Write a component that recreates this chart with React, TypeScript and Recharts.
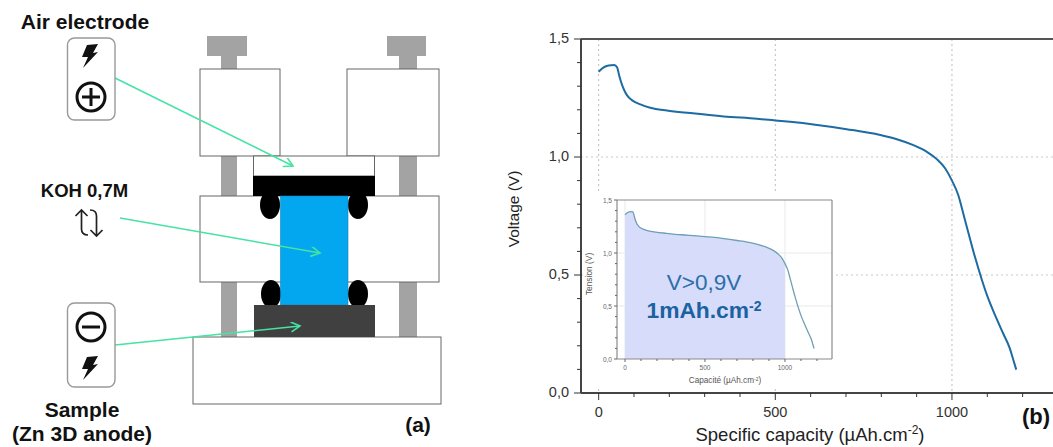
import { ComposedChart, Line, Area, XAxis, YAxis, CartesianGrid, ReferenceLine } from 'recharts'

const capacity = [0, 14, 28, 44, 52, 59, 68, 80, 94, 118, 146, 193, 259, 354, 448, 500, 542, 608, 702, 797, 844, 891, 929, 957, 981, 1000, 1018, 1032, 1047, 1065, 1085, 1101, 1122, 1145, 1164, 1174, 1182]
const voltage = [1.361, 1.38, 1.388, 1.39, 1.38, 1.34, 1.298, 1.262, 1.241, 1.223, 1.209, 1.197, 1.186, 1.172, 1.162, 1.155, 1.149, 1.138, 1.118, 1.093, 1.075, 1.05, 1.022, 0.991, 0.951, 0.9, 0.838, 0.761, 0.676, 0.577, 0.478, 0.407, 0.33, 0.252, 0.188, 0.139, 0.099]
const xTicks = [0, 100, 200, 300, 400, 500, 600, 700, 800, 900, 1000, 1100, 1200]
const yTicks = [0, 0.1, 0.2, 0.3, 0.4, 0.5, 0.6, 0.7, 0.8, 0.9, 1, 1.1, 1.2, 1.3, 1.4, 1.5]
const xLabelled = [0, 500, 1000]
const yLabelled = [0, 0.5, 1, 1.5]

const rows = capacity.map((c, i) => ({
  capacity: c,
  voltage: voltage[i],
  filled: c <= 1000 ? voltage[i] : null,
}))

const FONT = '"Liberation Sans", Arial, sans-serif'
const GREEN = '#45e3a4'

function XTick({ x, y, payload, major, minor, dy, size, color }: any) {
  const labelled = xLabelled.includes(payload.value)
  return (
    <g>
      <line x1={x} x2={x} y1={y} y2={y + (labelled ? major : minor)} stroke={color} strokeWidth={1} />
      {labelled && (
        <text x={x} y={y + dy} textAnchor="middle" fontSize={size} fontFamily={FONT} fill={color}>
          {payload.value}
        </text>
      )}
    </g>
  )
}

function YTick({ x, y, payload, major, minor, dx, dy, size, color }: any) {
  const labelled = yLabelled.includes(payload.value)
  return (
    <g>
      <line x1={x - (labelled ? major : minor)} x2={x} y1={y} y2={y} stroke={color} strokeWidth={1} />
      {labelled && (
        <text x={x - dx} y={y + dy} textAnchor="end" fontSize={size} fontFamily={FONT} fill={color}>
          {payload.value.toFixed(1).replace('.', ',')}
        </text>
      )}
    </g>
  )
}

function Bolt({ x, y }: { x: number; y: number }) {
  return (
    <path
      transform={`translate(${x} ${y})`}
      d="M-3 -11 L8 -12 L3 -3 L8 -4 L-7 12 L-2 1 L-8 1 Z"
      fill="#111"
    />
  )
}

function Schematic() {
  const box = { fill: '#fff', stroke: '#666', strokeWidth: 1 }
  return (
    <svg width={1053} height={447} style={{ position: 'absolute', left: 0, top: 0 }}>
      <defs>
        <marker id="head" markerWidth="12" markerHeight="12" refX="10" refY="5" orient="auto" markerUnits="userSpaceOnUse">
          <path d="M1 0 L10 5 L1 10" fill="none" stroke={GREEN} strokeWidth={1.6} />
        </marker>
      </defs>
      <g fill="#a3a3a3">
        <rect x={207} y={36} width={40} height={20} />
        <rect x={221} y={56} width={16} height={13} />
        <rect x={387} y={36} width={39} height={20} />
        <rect x={399} y={56} width={18} height={13} />
        <rect x={221} y={156} width={16} height={40} />
        <rect x={221} y={282} width={16} height={55} />
        <rect x={399} y={156} width={18} height={40} />
        <rect x={399} y={282} width={18} height={55} />
      </g>
      <rect x={200} y={69} width={80} height={87} {...box} />
      <rect x={347} y={69} width={92} height={87} {...box} />
      <rect x={200} y={196} width={239} height={86} {...box} />
      <rect x={193} y={337} width={248} height={67} {...box} />
      <rect x={253.5} y={156} width={121} height={20} {...box} />
      <rect x={253} y={176} width={122} height={20} fill="#000" />
      <ellipse cx={270} cy={205} rx={10} ry={14} fill="#000" />
      <ellipse cx={358} cy={205} rx={10} ry={14} fill="#000" />
      <ellipse cx={271} cy={294} rx={10} ry={14} fill="#000" />
      <ellipse cx={358} cy={294} rx={10} ry={14} fill="#000" />
      <rect x={280.5} y={196} width={67.5} height={109} fill="#03a7ef" stroke="#1a7fb5" strokeWidth={0.6} />
      <rect x={254} y={305} width={121} height={32} fill="#404040" />
      <line x1={115} y1={78} x2={293} y2={166} stroke={GREEN} strokeWidth={1.6} markerEnd="url(#head)" />
      <line x1={120} y1={218} x2={320} y2={253} stroke={GREEN} strokeWidth={1.6} markerEnd="url(#head)" />
      <line x1={115} y1={345} x2={300} y2={326} stroke={GREEN} strokeWidth={1.6} markerEnd="url(#head)" />
      <rect x={67.5} y={38} width={47.5} height={82} rx={7} fill="none" stroke="#999" strokeWidth={1.4} />
      <rect x={67.5} y={303} width={47.5} height={84} rx={7} fill="none" stroke="#999" strokeWidth={1.4} />
      <Bolt x={90} y={56} />
      <Bolt x={90} y={368} />
      <circle cx={91} cy={97} r={14} fill="none" stroke="#111" strokeWidth={3} />
      <path d="M82 97 H100 M91 88 V106" stroke="#111" strokeWidth={3} />
      <circle cx={91} cy={327} r={14} fill="none" stroke="#111" strokeWidth={3} />
      <path d="M82 327 H100" stroke="#111" strokeWidth={3} />
      <path d="M81.5 210 V229 Q81.5 235 88 235 M75.5 216 L81.5 210 L87.5 216" fill="none" stroke="#222" strokeWidth={1.7} />
      <path d="M96.5 236 V216 Q96.5 210 90 210 M90.5 230 L96.5 236 L102.5 230" fill="none" stroke="#222" strokeWidth={1.7} />
      <g fontFamily={FONT} fontWeight="bold" fill="#111" textAnchor="middle">
        <text x={85} y={29} fontSize={21}>Air electrode</text>
        <text x={84.5} y={197} fontSize={18.5}>KOH 0,7M</text>
        <text x={82} y={417} fontSize={21}>Sample</text>
        <text x={82} y={441} fontSize={21}>(Zn 3D anode)</text>
        <text x={418} y={432} fontSize={21}>(a)</text>
      </g>
    </svg>
  )
}

function MainChart() {
  return (
    <div style={{ position: 'absolute', left: 0, top: 0 }}>
      <ComposedChart width={1053} height={447} data={rows} margin={{ left: 521, right: 0, top: 39, bottom: 24 }}>
        <CartesianGrid
          horizontal={false}
          vertical
          verticalValues={[0, 500, 1000]}
          stroke="#bdbdbd"
          strokeDasharray="2 3"
        />
        <CartesianGrid
          vertical={false}
          horizontal
          horizontalValues={[0.5, 1]}
          stroke="#c9c9c9"
          strokeDasharray="2 3"
        />
        <XAxis
          dataKey="capacity"
          type="number"
          domain={[-50, 1286]}
          ticks={xTicks}
          interval={0}
          height={30}
          tickLine={false}
          tickSize={0}
          tickMargin={0}
          axisLine={{ stroke: '#444', strokeWidth: 2 }}
          tick={(p: any) => <XTick {...p} major={7} minor={4} dy={24} size={14.5} color="#333" />}
        />
        <YAxis
          type="number"
          domain={[0, 1.5]}
          ticks={yTicks}
          interval={0}
          width={60}
          tickLine={false}
          tickSize={0}
          tickMargin={0}
          axisLine={{ stroke: '#444', strokeWidth: 2 }}
          tick={(p: any) => <YTick {...p} major={7} minor={4} dx={12} dy={4} size={14.5} color="#333" />}
        />
        <ReferenceLine y={1.5} stroke="#555" strokeWidth={2} />
        <Line type="monotone" dataKey="voltage" stroke="#1c6ba3" strokeWidth={2} dot={false} isAnimationActive={false} />
      </ComposedChart>
    </div>
  )
}

function InsetChart() {
  return (
    <div style={{ position: 'absolute', left: 590, top: 193, width: 245, height: 194, background: '#fff' }}>
      <ComposedChart width={245} height={194} data={rows} margin={{ left: 7, right: 3, top: 7, bottom: 8 }}>
        <CartesianGrid verticalValues={[0, 500, 1000]} horizontalValues={[0.5, 1]} stroke="#e9e9e9" />
        <XAxis
          dataKey="capacity"
          type="number"
          domain={[-50, 1294]}
          ticks={xTicks}
          interval={0}
          height={20}
          tickLine={false}
          tickSize={0}
          tickMargin={0}
          axisLine={{ stroke: '#8a8a8a', strokeWidth: 1.2 }}
          tick={(p: any) => <XTick {...p} major={3} minor={2} dy={11} size={6.5} color="#666" />}
        />
        <YAxis
          type="number"
          domain={[0, 1.5]}
          ticks={yTicks}
          interval={0}
          width={20}
          tickLine={false}
          tickSize={0}
          tickMargin={0}
          axisLine={{ stroke: '#8a8a8a', strokeWidth: 1.2 }}
          tick={(p: any) => <YTick {...p} major={3} minor={2} dx={5} dy={2.5} size={6.5} color="#666" />}
        />
        <ReferenceLine y={1.5} stroke="#8a8a8a" strokeWidth={1.2} />
        <ReferenceLine x={1294} stroke="#8a8a8a" strokeWidth={1.2} />
        <Area
          type="monotone"
          dataKey="filled"
          stroke="none"
          fill="#d6dcfa"
          fillOpacity={1}
          dot={false}
          activeDot={false}
          isAnimationActive={false}
        />
        <Line type="monotone" dataKey="voltage" stroke="#6f9fb4" strokeWidth={1.3} dot={false} isAnimationActive={false} />
      </ComposedChart>
    </div>
  )
}

function Captions() {
  return (
    <svg width={1053} height={447} style={{ position: 'absolute', left: 0, top: 0, pointerEvents: 'none' }}>
      <g fontFamily={FONT}>
        <text x={810} y={441} textAnchor="middle" fontSize={18.5} fill="#222">
          Specific capacity (µAh.cm<tspan dy={-7} fontSize={12}>-2</tspan><tspan dy={7}>)</tspan>
        </text>
        <text transform="translate(519 209) rotate(-90)" textAnchor="middle" fontSize={15.5} fill="#222">Voltage (V)</text>
        <text x={1036} y={424} textAnchor="middle" fontSize={22} fontWeight="bold" fill="#111">(b)</text>
        <text x={725} y={383} textAnchor="middle" fontSize={8.2} fill="#555">
          Capacité (µAh.cm<tspan dy={-2} fontSize={5}>-2</tspan><tspan dy={2}>)</tspan>
        </text>
        <text transform="translate(592 274) rotate(-90)" textAnchor="middle" fontSize={8.4} fill="#555">Tension (V)</text>
        <text x={704} y={290} textAnchor="middle" fontSize={22.5} fill="#2c6ea8">V&gt;0,9V</text>
        <text x={704} y={318} textAnchor="middle" fontSize={22.8} fontWeight="bold" fill="#1a62a0">
          1mAh.cm<tspan dy={-7} fontSize={14}>-2</tspan>
        </text>
      </g>
    </svg>
  )
}

export default function App() {
  return (
    <div style={{ position: 'absolute', left: 0, top: 0, width: 1053, height: 447, background: '#fff', overflow: 'hidden' }}>
      <Schematic />
      <MainChart />
      <InsetChart />
      <Captions />
    </div>
  )
}
